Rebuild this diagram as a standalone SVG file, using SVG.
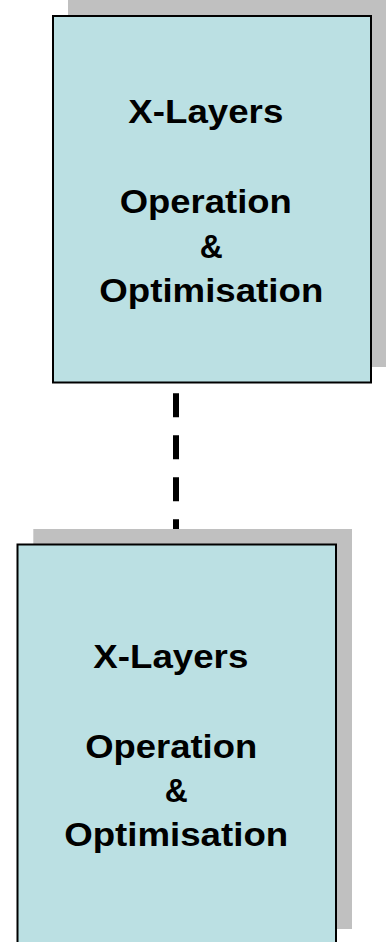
<svg xmlns="http://www.w3.org/2000/svg" width="391" height="942" viewBox="0 0 391 942">
<style>
.shadow{fill:#C0C0C0;stroke:none}
.box{fill:#BBE0E3;stroke:#000;stroke-width:2}
.t{font-family:"Liberation Sans",Arial,sans-serif;font-weight:bold;font-size:33px;fill:#000;text-anchor:middle}
.conn{stroke:#000;stroke-width:6;stroke-dasharray:24 18;fill:none}
</style>
<rect width="391" height="942" fill="#fff"/>
<g id="connectors">
<line class="conn" x1="176" y1="393.3" x2="176" y2="545"/>
</g>
<g id="node-top">
<rect class="shadow" x="68" y="0" width="318" height="367"/>
<rect class="box" x="53" y="16" width="318" height="366.5"/>
<text class="t" x="205.8" y="123.3" textLength="155" lengthAdjust="spacingAndGlyphs">X-Layers</text>
<text class="t" x="205.8" y="213.3" textLength="172" lengthAdjust="spacingAndGlyphs">Operation</text>
<text class="t" x="211.3" y="258.3" textLength="23" lengthAdjust="spacingAndGlyphs">&amp;</text>
<text class="t" x="211.3" y="301.7" textLength="224" lengthAdjust="spacingAndGlyphs">Optimisation</text>
</g>
<g id="node-bottom">
<rect class="shadow" x="33.3" y="529" width="318.7" height="400"/>
<rect class="box" x="17.5" y="544.5" width="318.5" height="402"/>
<text class="t" x="170.8" y="668.3" textLength="155" lengthAdjust="spacingAndGlyphs">X-Layers</text>
<text class="t" x="171.2" y="758.3" textLength="172" lengthAdjust="spacingAndGlyphs">Operation</text>
<text class="t" x="176.3" y="801.7" textLength="23" lengthAdjust="spacingAndGlyphs">&amp;</text>
<text class="t" x="176.2" y="846" textLength="224" lengthAdjust="spacingAndGlyphs">Optimisation</text>
</g>
</svg>
